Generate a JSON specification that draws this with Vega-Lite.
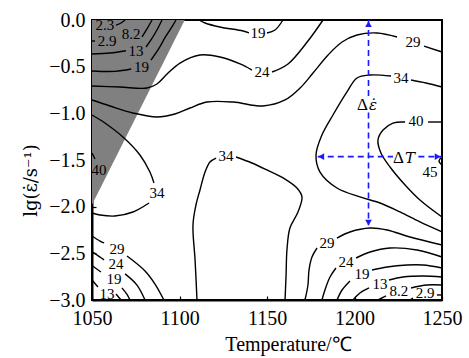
{
  "$schema": "https://vega.github.io/schema/vega-lite/v6.json",
  "width": 350,
  "height": 280,
  "autosize": "none",
  "padding": {"left": 92, "top": 20, "right": 27, "bottom": 58},
  "background": "white",
  "config": {
    "view": {"stroke": "black", "strokeWidth": 2},
    "axis": {
      "grid": false,
      "labelFont": "Liberation Serif",
      "labelFontSize": 20,
      "labelColor": "black",
      "labelFlush": false,
      "labelOverlap": false,
      "titleFont": "Liberation Serif",
      "titleFontSize": 20,
      "titleFontWeight": "normal",
      "titleColor": "black",
      "domainColor": "black",
      "domainWidth": 2,
      "tickColor": "black",
      "tickSize": -4,
      "tickWidth": 1.2
    }
  },
  "datasets": {
    "grey": [
      {"T": 1050, "lo": -1.98, "hi": 0},
      {"T": 1103, "lo": 0, "hi": 0}
    ],
    "lines": [
      {"id": "c23a", "o": 0, "T": 1063.7, "lg": -0.054},
      {"id": "c23a", "o": 1, "T": 1066.6, "lg": -0.032},
      {"id": "c23a", "o": 2, "T": 1068.9, "lg": 0},
      {"id": "c29a", "o": 0, "T": 1050, "lg": -0.225},
      {"id": "c29a", "o": 1, "T": 1051.7, "lg": -0.225},
      {"id": "c82a", "o": 0, "T": 1078.6, "lg": -0.182},
      {"id": "c82a", "o": 1, "T": 1081.4, "lg": -0.096},
      {"id": "c82a", "o": 2, "T": 1084.3, "lg": 0},
      {"id": "c13a", "o": 0, "T": 1050, "lg": -0.364},
      {"id": "c13a", "o": 1, "T": 1060.3, "lg": -0.354},
      {"id": "c13a", "o": 2, "T": 1069.4, "lg": -0.33},
      {"id": "c13b", "o": 0, "T": 1080.9, "lg": -0.289},
      {"id": "c13b", "o": 1, "T": 1083.7, "lg": -0.214},
      {"id": "c13b", "o": 2, "T": 1087.1, "lg": -0.107},
      {"id": "c13b", "o": 3, "T": 1090, "lg": 0},
      {"id": "c19a", "o": 0, "T": 1050, "lg": -0.546},
      {"id": "c19a", "o": 1, "T": 1063.1, "lg": -0.55},
      {"id": "c19a", "o": 2, "T": 1072.4, "lg": -0.525},
      {"id": "c19b", "o": 0, "T": 1083.7, "lg": -0.429},
      {"id": "c19b", "o": 1, "T": 1087.7, "lg": -0.321},
      {"id": "c19b", "o": 2, "T": 1092.3, "lg": -0.171},
      {"id": "c19b", "o": 3, "T": 1096.3, "lg": -0.054},
      {"id": "c19b", "o": 4, "T": 1098, "lg": 0},
      {"id": "c24a", "o": 0, "T": 1050, "lg": -0.707},
      {"id": "c24a", "o": 1, "T": 1066, "lg": -0.718},
      {"id": "c24a", "o": 2, "T": 1081.4, "lg": -0.729},
      {"id": "c24a", "o": 3, "T": 1087.1, "lg": -0.686},
      {"id": "c24a", "o": 4, "T": 1092.9, "lg": -0.579},
      {"id": "c24a", "o": 5, "T": 1100.3, "lg": -0.461},
      {"id": "c24a", "o": 6, "T": 1111.7, "lg": -0.375},
      {"id": "c24a", "o": 7, "T": 1123.1, "lg": -0.396},
      {"id": "c24a", "o": 8, "T": 1134.6, "lg": -0.471},
      {"id": "c24a", "o": 9, "T": 1141.4, "lg": -0.536},
      {"id": "c24b", "o": 0, "T": 1152.9, "lg": -0.557},
      {"id": "c24b", "o": 1, "T": 1162, "lg": -0.471},
      {"id": "c24b", "o": 2, "T": 1173.4, "lg": -0.225},
      {"id": "c24b", "o": 3, "T": 1182, "lg": 0},
      {"id": "c19ma", "o": 0, "T": 1111.1, "lg": 0},
      {"id": "c19ma", "o": 1, "T": 1114.6, "lg": -0.032},
      {"id": "c19ma", "o": 2, "T": 1123.1, "lg": -0.075},
      {"id": "c19ma", "o": 3, "T": 1136.3, "lg": -0.118},
      {"id": "c19ma", "o": 4, "T": 1139.7, "lg": -0.139},
      {"id": "c19mb", "o": 0, "T": 1150, "lg": -0.139},
      {"id": "c19mb", "o": 1, "T": 1154.6, "lg": -0.107},
      {"id": "c19mb", "o": 2, "T": 1159.1, "lg": 0},
      {"id": "c29a_", "o": 0, "T": 1050, "lg": -0.857},
      {"id": "c29a_", "o": 1, "T": 1060.3, "lg": -0.921},
      {"id": "c29a_", "o": 2, "T": 1073.4, "lg": -0.996},
      {"id": "c29a_", "o": 3, "T": 1087.1, "lg": -1.039},
      {"id": "c29a_", "o": 4, "T": 1097.4, "lg": -1.007},
      {"id": "c29a_", "o": 5, "T": 1106, "lg": -0.943},
      {"id": "c29a_", "o": 6, "T": 1115.7, "lg": -0.879},
      {"id": "c29a_", "o": 7, "T": 1130.6, "lg": -0.879},
      {"id": "c29a_", "o": 8, "T": 1147.7, "lg": -0.921},
      {"id": "c29a_", "o": 9, "T": 1160.3, "lg": -0.857},
      {"id": "c29a_", "o": 10, "T": 1168.9, "lg": -0.729},
      {"id": "c29a_", "o": 11, "T": 1176.3, "lg": -0.568},
      {"id": "c29a_", "o": 12, "T": 1184.9, "lg": -0.375},
      {"id": "c29a_", "o": 13, "T": 1192.9, "lg": -0.236},
      {"id": "c29a_", "o": 14, "T": 1201.4, "lg": -0.161},
      {"id": "c29a_", "o": 15, "T": 1212.9, "lg": -0.139},
      {"id": "c29a_", "o": 16, "T": 1224.3, "lg": -0.182},
      {"id": "c29b_", "o": 0, "T": 1239.7, "lg": -0.279},
      {"id": "c29b_", "o": 1, "T": 1250, "lg": -0.343},
      {"id": "c34La", "o": 0, "T": 1050, "lg": -1.018},
      {"id": "c34La", "o": 1, "T": 1057.4, "lg": -1.104},
      {"id": "c34La", "o": 2, "T": 1068.3, "lg": -1.264},
      {"id": "c34La", "o": 3, "T": 1077.4, "lg": -1.446},
      {"id": "c34La", "o": 4, "T": 1083.1, "lg": -1.629},
      {"id": "c34La", "o": 5, "T": 1085.4, "lg": -1.746},
      {"id": "c34Lb", "o": 0, "T": 1082.6, "lg": -1.961},
      {"id": "c34Lb", "o": 1, "T": 1073.4, "lg": -2.057},
      {"id": "c34Lb", "o": 2, "T": 1063.1, "lg": -2.1},
      {"id": "c34Lb", "o": 3, "T": 1054.6, "lg": -2.089},
      {"id": "c34Lb", "o": 4, "T": 1050, "lg": -2.068},
      {"id": "c40L", "o": 0, "T": 1050, "lg": -1.425},
      {"id": "c40L", "o": 1, "T": 1051.7, "lg": -1.489},
      {"id": "c34Ma", "o": 0, "T": 1110, "lg": -3.0},
      {"id": "c34Ma", "o": 1, "T": 1108.9, "lg": -2.571},
      {"id": "c34Ma", "o": 2, "T": 1107.7, "lg": -2.196},
      {"id": "c34Ma", "o": 3, "T": 1109.4, "lg": -1.982},
      {"id": "c34Ma", "o": 4, "T": 1111.7, "lg": -1.821},
      {"id": "c34Ma", "o": 5, "T": 1114.6, "lg": -1.629},
      {"id": "c34Ma", "o": 6, "T": 1117.4, "lg": -1.521},
      {"id": "c34Ma", "o": 7, "T": 1120.9, "lg": -1.479},
      {"id": "c34Mb", "o": 0, "T": 1132.3, "lg": -1.468},
      {"id": "c34Mb", "o": 1, "T": 1141.4, "lg": -1.532},
      {"id": "c34Mb", "o": 2, "T": 1150, "lg": -1.607},
      {"id": "c34Mb", "o": 3, "T": 1160.3, "lg": -1.704},
      {"id": "c34Mb", "o": 4, "T": 1167.1, "lg": -1.8},
      {"id": "c34Mb", "o": 5, "T": 1170, "lg": -1.896},
      {"id": "c34Mb", "o": 6, "T": 1167.7, "lg": -2.057},
      {"id": "c34Mb", "o": 7, "T": 1163.1, "lg": -2.229},
      {"id": "c34Mb", "o": 8, "T": 1161.4, "lg": -2.464},
      {"id": "c34Mb", "o": 9, "T": 1160.9, "lg": -2.732},
      {"id": "c34Mb", "o": 10, "T": 1160.3, "lg": -3.0},
      {"id": "c34Ra", "o": 0, "T": 1250, "lg": -0.718},
      {"id": "c34Ra", "o": 1, "T": 1240.9, "lg": -0.675},
      {"id": "c34Ra", "o": 2, "T": 1232.3, "lg": -0.643},
      {"id": "c34Rb", "o": 0, "T": 1220.9, "lg": -0.6},
      {"id": "c34Rb", "o": 1, "T": 1208.9, "lg": -0.589},
      {"id": "c34Rb", "o": 2, "T": 1201.4, "lg": -0.621},
      {"id": "c34Rb", "o": 3, "T": 1195.7, "lg": -0.771},
      {"id": "c34Rb", "o": 4, "T": 1187.7, "lg": -1.018},
      {"id": "c34Rb", "o": 5, "T": 1181.4, "lg": -1.232},
      {"id": "c34Rb", "o": 6, "T": 1178, "lg": -1.446},
      {"id": "c34Rb", "o": 7, "T": 1180.3, "lg": -1.629},
      {"id": "c34Rb", "o": 8, "T": 1190, "lg": -1.8},
      {"id": "c34Rb", "o": 9, "T": 1203.1, "lg": -1.896},
      {"id": "c34Rb", "o": 10, "T": 1214.6, "lg": -1.961},
      {"id": "c34Rb", "o": 11, "T": 1226, "lg": -2.057},
      {"id": "c34Rb", "o": 12, "T": 1237.4, "lg": -2.164},
      {"id": "c34Rb", "o": 13, "T": 1250, "lg": -2.271},
      {"id": "c40Ra", "o": 0, "T": 1250, "lg": -1.093},
      {"id": "c40Ra", "o": 1, "T": 1242, "lg": -1.093},
      {"id": "c40Rb", "o": 0, "T": 1228.9, "lg": -1.093},
      {"id": "c40Rb", "o": 1, "T": 1222, "lg": -1.104},
      {"id": "c40Rb", "o": 2, "T": 1216.3, "lg": -1.179},
      {"id": "c40Rb", "o": 3, "T": 1213.4, "lg": -1.286},
      {"id": "c40Rb", "o": 4, "T": 1215.1, "lg": -1.425},
      {"id": "c40Rb", "o": 5, "T": 1220.3, "lg": -1.575},
      {"id": "c40Rb", "o": 6, "T": 1228.9, "lg": -1.768},
      {"id": "c40Rb", "o": 7, "T": 1237.4, "lg": -1.929},
      {"id": "c40Rb", "o": 8, "T": 1250, "lg": -2.111},
      {"id": "c45", "o": 0, "T": 1250, "lg": -1.468},
      {"id": "c45", "o": 1, "T": 1248.3, "lg": -1.511},
      {"id": "c45", "o": 2, "T": 1250, "lg": -1.554},
      {"id": "c29Ra", "o": 0, "T": 1171.7, "lg": -3.0},
      {"id": "c29Ra", "o": 1, "T": 1173.4, "lg": -2.839},
      {"id": "c29Ra", "o": 2, "T": 1174, "lg": -2.679},
      {"id": "c29Ra", "o": 3, "T": 1175.7, "lg": -2.539},
      {"id": "c29Ra", "o": 4, "T": 1178.6, "lg": -2.443},
      {"id": "c29Rb", "o": 0, "T": 1190, "lg": -2.336},
      {"id": "c29Rb", "o": 1, "T": 1197.4, "lg": -2.271},
      {"id": "c29Rb", "o": 2, "T": 1208.9, "lg": -2.229},
      {"id": "c29Rb", "o": 3, "T": 1218.6, "lg": -2.25},
      {"id": "c29Rb", "o": 4, "T": 1231.7, "lg": -2.325},
      {"id": "c29Rb", "o": 5, "T": 1250, "lg": -2.411},
      {"id": "c24Ra", "o": 0, "T": 1181.4, "lg": -3.0},
      {"id": "c24Ra", "o": 1, "T": 1183.1, "lg": -2.893},
      {"id": "c24Ra", "o": 2, "T": 1186, "lg": -2.754},
      {"id": "c24Ra", "o": 3, "T": 1189.4, "lg": -2.657},
      {"id": "c24Rb", "o": 0, "T": 1200.9, "lg": -2.55},
      {"id": "c24Rb", "o": 1, "T": 1208.9, "lg": -2.486},
      {"id": "c24Rb", "o": 2, "T": 1220.3, "lg": -2.443},
      {"id": "c24Rb", "o": 3, "T": 1235.7, "lg": -2.464},
      {"id": "c24Rb", "o": 4, "T": 1250, "lg": -2.539},
      {"id": "c19Ra", "o": 0, "T": 1190, "lg": -3.0},
      {"id": "c19Ra", "o": 1, "T": 1192.9, "lg": -2.893},
      {"id": "c19Ra", "o": 2, "T": 1197.4, "lg": -2.796},
      {"id": "c19Rb", "o": 0, "T": 1210, "lg": -2.679},
      {"id": "c19Rb", "o": 1, "T": 1218.6, "lg": -2.646},
      {"id": "c19Rb", "o": 2, "T": 1230, "lg": -2.625},
      {"id": "c19Rb", "o": 3, "T": 1239.1, "lg": -2.625},
      {"id": "c19Rb", "o": 4, "T": 1250, "lg": -2.657},
      {"id": "c13Ra", "o": 0, "T": 1199.1, "lg": -3.0},
      {"id": "c13Ra", "o": 1, "T": 1203.1, "lg": -2.925},
      {"id": "c13Ra", "o": 2, "T": 1208.3, "lg": -2.871},
      {"id": "c13Rb", "o": 0, "T": 1219.7, "lg": -2.786},
      {"id": "c13Rb", "o": 1, "T": 1227.7, "lg": -2.754},
      {"id": "c13Rb", "o": 2, "T": 1239.1, "lg": -2.743},
      {"id": "c13Rb", "o": 3, "T": 1250, "lg": -2.754},
      {"id": "c82Ra", "o": 0, "T": 1213.4, "lg": -3.0},
      {"id": "c82Ra", "o": 1, "T": 1218, "lg": -2.957},
      {"id": "c82Rb", "o": 0, "T": 1232.3, "lg": -2.871},
      {"id": "c82Rb", "o": 1, "T": 1241.4, "lg": -2.839},
      {"id": "c82Rb", "o": 2, "T": 1250, "lg": -2.839},
      {"id": "c29R2a", "o": 0, "T": 1231.7, "lg": -3.0},
      {"id": "c29R2a", "o": 1, "T": 1233.4, "lg": -2.979},
      {"id": "c29R2b", "o": 0, "T": 1247.1, "lg": -2.946},
      {"id": "c29R2b", "o": 1, "T": 1250, "lg": -2.946},
      {"id": "c29BLa", "o": 0, "T": 1050, "lg": -2.314},
      {"id": "c29BLa", "o": 1, "T": 1054.6, "lg": -2.368},
      {"id": "c29BLa", "o": 2, "T": 1056.9, "lg": -2.389},
      {"id": "c29BLb", "o": 0, "T": 1070, "lg": -2.529},
      {"id": "c29BLb", "o": 1, "T": 1080.3, "lg": -2.689},
      {"id": "c29BLb", "o": 2, "T": 1086, "lg": -2.829},
      {"id": "c29BLb", "o": 3, "T": 1091.1, "lg": -3.0},
      {"id": "c24BLa", "o": 0, "T": 1050, "lg": -2.48},
      {"id": "c24BLa", "o": 1, "T": 1054.6, "lg": -2.54},
      {"id": "c24BLa", "o": 2, "T": 1056.9, "lg": -2.57},
      {"id": "c24BLb", "o": 0, "T": 1068.9, "lg": -2.72},
      {"id": "c24BLb", "o": 1, "T": 1075.7, "lg": -2.84},
      {"id": "c24BLb", "o": 2, "T": 1080.3, "lg": -3.0},
      {"id": "c19BLa", "o": 0, "T": 1050, "lg": -2.63},
      {"id": "c19BLa", "o": 1, "T": 1055.1, "lg": -2.7},
      {"id": "c19BLb", "o": 0, "T": 1067.1, "lg": -2.87},
      {"id": "c19BLb", "o": 1, "T": 1070, "lg": -2.94},
      {"id": "c19BLb", "o": 2, "T": 1071.7, "lg": -3.0},
      {"id": "c13BLa", "o": 0, "T": 1050, "lg": -2.786},
      {"id": "c13BLa", "o": 1, "T": 1053.4, "lg": -2.861},
      {"id": "c13BLb", "o": 0, "T": 1063.7, "lg": -2.936},
      {"id": "c13BLb", "o": 1, "T": 1066.6, "lg": -3.0}
    ],
    "labels": [
      {"t": "2.3", "T": 1057.4, "lg": -0.054},
      {"t": "2.9", "T": 1058.6, "lg": -0.225},
      {"t": "8.2", "T": 1072.3, "lg": -0.155},
      {"t": "13", "T": 1075.1, "lg": -0.33},
      {"t": "19", "T": 1078.3, "lg": -0.5},
      {"t": "24", "T": 1147.1, "lg": -0.557},
      {"t": "19", "T": 1144.9, "lg": -0.139},
      {"t": "29", "T": 1233.4, "lg": -0.236},
      {"t": "34", "T": 1087.1, "lg": -1.854},
      {"t": "40", "T": 1054, "lg": -1.607},
      {"t": "34", "T": 1126.6, "lg": -1.457},
      {"t": "34", "T": 1226.6, "lg": -0.621},
      {"t": "40", "T": 1235.1, "lg": -1.082},
      {"t": "45", "T": 1243.1, "lg": -1.629},
      {"t": "29", "T": 1184.3, "lg": -2.389},
      {"t": "24", "T": 1195.1, "lg": -2.593},
      {"t": "19", "T": 1204.3, "lg": -2.721},
      {"t": "13", "T": 1214.6, "lg": -2.829},
      {"t": "8.2", "T": 1225.4, "lg": -2.904},
      {"t": "2.9", "T": 1240.3, "lg": -2.925},
      {"t": "29", "T": 1064.3, "lg": -2.45},
      {"t": "24", "T": 1063.7, "lg": -2.614},
      {"t": "19", "T": 1062.6, "lg": -2.775},
      {"t": "13", "T": 1058.6, "lg": -2.936}
    ],
    "dashes": [
      {"T": 1208, "lg": 0, "T2": 1208, "lg2": -0.82},
      {"T": 1208, "lg": -0.99, "T2": 1208, "lg2": -2.2},
      {"T": 1179, "lg": -1.464, "T2": 1222, "lg2": -1.464},
      {"T": 1236.5, "lg": -1.464, "T2": 1250, "lg2": -1.464}
    ],
    "heads": [
      {"dir": "up", "T": 1208, "lg": -0.045},
      {"dir": "down", "T": 1208, "lg": -2.17},
      {"dir": "left", "T": 1181, "lg": -1.464},
      {"dir": "right", "T": 1247.5, "lg": -1.464}
    ],
    "notes": [
      {"sym": "Δ", "v": "ε̇", "T": 1207.7, "lg": -0.911},
      {"sym": "Δ", "v": "T", "T": 1228.3, "lg": -1.479}
    ]
  },
  "encoding": {
    "x": {
      "field": "T", "type": "quantitative",
      "scale": {"domain": [1050, 1250], "nice": false},
      "axis": {"values": [1050, 1100, 1150, 1200, 1250], "format": "d", "title": "Temperature/℃", "labelPadding": 12, "titlePadding": 6, "titleX": 196}
    },
    "y": {
      "field": "lg", "type": "quantitative",
      "scale": {"domain": [-3, 0], "nice": false},
      "axis": {"values": [-3, -2.5, -2, -1.5, -1, -0.5, 0], "format": ".1f", "title": "lg(ε̇/s⁻¹)", "titleFont": "DejaVu Serif", "titleFontSize": 18, "labelPadding": 11, "titlePadding": 8, "titleY": 160}
    }
  },
  "layer": [
    {
      "data": {"name": "grey"},
      "mark": {"type": "area", "color": "#808080", "opacity": 1},
      "encoding": {"y": {"field": "lo", "type": "quantitative"}, "y2": {"field": "hi"}}
    },
    {
      "data": {"name": "lines"},
      "mark": {"type": "line", "color": "black", "strokeWidth": 1.4, "interpolate": "catmull-rom"},
      "encoding": {"detail": {"field": "id"}, "order": {"field": "o", "type": "quantitative"}}
    },
    {
      "data": {"name": "labels"},
      "mark": {"type": "text", "font": "Liberation Serif", "fontSize": 15, "color": "black", "align": "center", "baseline": "middle"},
      "encoding": {"text": {"field": "t"}}
    },
    {
      "data": {"name": "dashes"},
      "mark": {"type": "rule", "color": "#1a1aff", "strokeWidth": 1.6, "strokeDash": [6, 4]},
      "encoding": {"x2": {"field": "T2"}, "y2": {"field": "lg2"}}
    },
    {
      "data": {"name": "heads"},
      "mark": {"type": "point", "filled": true, "color": "#1a1aff", "opacity": 1, "size": 45},
      "encoding": {
        "shape": {"field": "dir", "type": "nominal", "legend": null,
          "scale": {"domain": ["up", "down", "left", "right"], "range": ["triangle-up", "triangle-down", "triangle-left", "triangle-right"]}}
      }
    },
    {
      "data": {"name": "notes"},
      "mark": {"type": "text", "font": "Liberation Serif", "fontSize": 17, "color": "black", "align": "right", "baseline": "middle"},
      "encoding": {"text": {"field": "sym"}}
    },
    {
      "data": {"name": "notes"},
      "mark": {"type": "text", "font": "DejaVu Serif", "fontSize": 15, "fontStyle": "italic", "color": "black", "align": "left", "baseline": "middle", "dx": 1},
      "encoding": {"text": {"field": "v"}}
    }
  ]
}
